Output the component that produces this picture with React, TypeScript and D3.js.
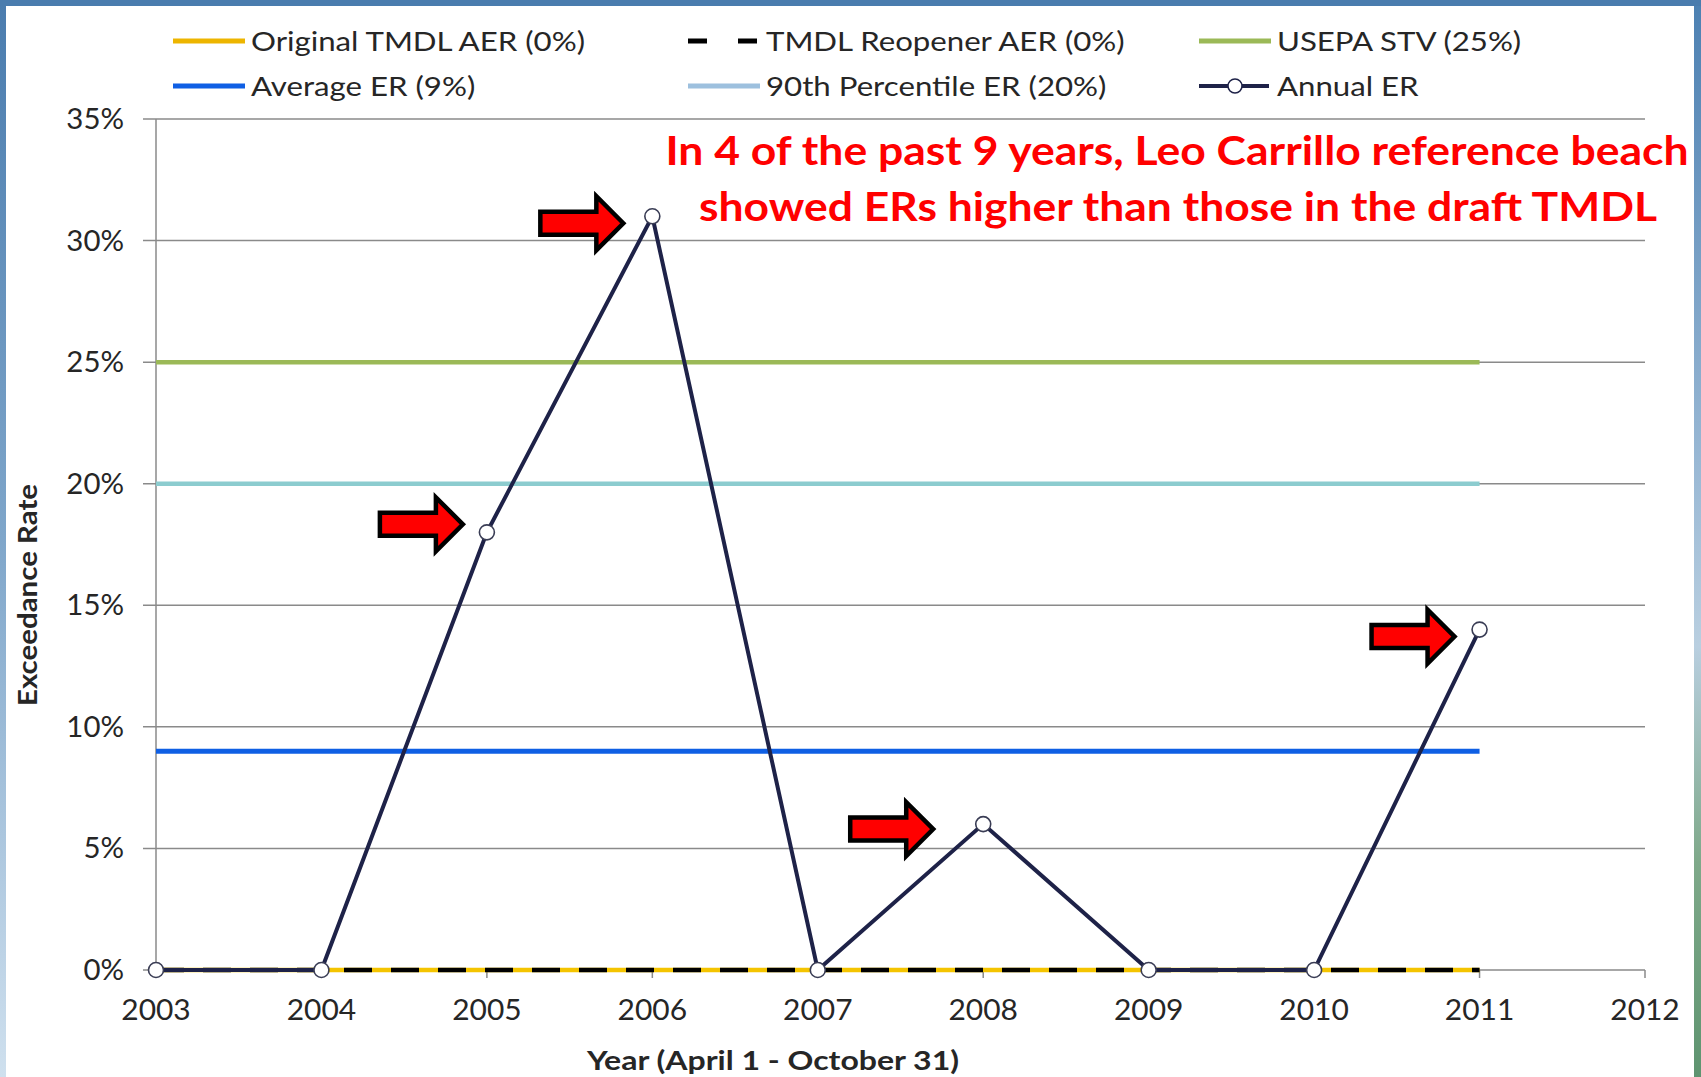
import React from "react";
import * as d3 from "d3";

// Annual exceedance rate (%) at Leo Carrillo reference beach
const years = [2003, 2004, 2005, 2006, 2007, 2008, 2009, 2010, 2011];
const annualER = [0, 0, 18, 31, 0, 6, 0, 0, 14];

// Reference levels (%)
const originalTmdlAER = 0;
const reopenerAER = 0;
const usepaSTV = 25;
const averageER = 9;
const percentile90ER = 20;

// Axis ticks
const xTicks = [2003, 2004, 2005, 2006, 2007, 2008, 2009, 2010, 2011, 2012];
const yTicks = [0, 5, 10, 15, 20, 25, 30, 35];

// Years flagged with an arrow
const flaggedYears = [2005, 2006, 2008, 2011];

const legendRow1 = ["Original TMDL AER (0%)", "TMDL Reopener AER (0%)", "USEPA STV (25%)"];
const legendRow2 = ["Average ER (9%)", "90th Percentile ER (20%)", "Annual ER"];

const noteLines = [
  "In 4 of the past 9 years, Leo Carrillo reference beach",
  "showed ERs higher than those in the draft TMDL",
];

const W = 1701;
const H = 1077;
const FONT = "Lato, 'Open Sans', 'DejaVu Sans', sans-serif";

const C = {
  gold: "#F4C400",
  black: "#000000",
  olive: "#9BB957",
  blue: "#0F5FE4",
  teal: "#8CCCCF",
  navy: "#1E2248",
  grid: "#8A8A8A",
  text: "#262626",
  red: "#FF0000",
};

export default function App() {
  const x = d3.scaleLinear().domain([2003, 2012]).range([156, 1645]);
  const y = d3.scaleLinear().domain([0, 35]).range([970, 119]);

  const x0 = x(years[0]);
  const x1 = x(years[years.length - 1]);

  const erLine = d3
    .line<number>()
    .x((_, i) => x(years[i]))
    .y((d) => y(d));

  // arrow nudges (px) so each arrow sits just left of its point
  const arrowNudge: Record<number, [number, number]> = {
    2005: [-24, -8],
    2006: [-29, 7],
    2008: [-50, 5],
    2011: [-25, 7],
  };
  const arrowPath =
    "M0,0 L-27,-27 L-27,-11.5 L-83,-11.5 L-83,11.5 L-27,11.5 L-27,27 Z";

  const legendCols = [173, 688, 1199];
  const legendRows = [41, 86];

  const legendSwatch = (row: number, col: number) => {
    const lx = legendCols[col];
    const ly = legendRows[row];
    if (row === 0 && col === 0)
      return <line x1={lx} x2={lx + 72} y1={ly} y2={ly} stroke="#EDB500" strokeWidth={5} />;
    if (row === 0 && col === 1)
      return (
        <line x1={lx} x2={lx + 69} y1={ly} y2={ly} stroke={C.black} strokeWidth={5} strokeDasharray="19 31" />
      );
    if (row === 0 && col === 2)
      return <line x1={lx} x2={lx + 72} y1={ly} y2={ly} stroke={C.olive} strokeWidth={5} />;
    if (row === 1 && col === 0)
      return <line x1={lx} x2={lx + 72} y1={ly} y2={ly} stroke={C.blue} strokeWidth={5} />;
    if (row === 1 && col === 1)
      return <line x1={lx} x2={lx + 72} y1={ly} y2={ly} stroke="#9DC0DE" strokeWidth={5} />;
    return (
      <g>
        <line x1={lx} x2={lx + 70} y1={ly} y2={ly} stroke={C.navy} strokeWidth={4} />
        <circle cx={lx + 36} cy={ly} r={7} fill="#fff" stroke={C.navy} strokeWidth={1.5} />
      </g>
    );
  };

  return (
    <svg
      width={W}
      height={H}
      viewBox={`0 0 ${W} ${H}`}
      style={{ position: "absolute", left: 0, top: 0, display: "block" }}
    >
      <defs>
        <linearGradient id="leftEdge" x1="0" y1="0" x2="0" y2="1">
          <stop offset="0" stopColor="#4A7CAE" />
          <stop offset="0.5" stopColor="#7FA6CA" />
          <stop offset="1" stopColor="#CFE0EE" />
        </linearGradient>
        <linearGradient id="rightEdge" x1="0" y1="0" x2="0" y2="1">
          <stop offset="0" stopColor="#4C80B2" />
          <stop offset="0.45" stopColor="#9DBBD6" />
          <stop offset="0.6" stopColor="#B9CFE0" />
          <stop offset="0.8" stopColor="#7FA98A" />
          <stop offset="1" stopColor="#5E9470" />
        </linearGradient>
      </defs>

      {/* slide frame */}
      <rect x={0} y={0} width={W} height={H} fill="#fff" />
      <rect x={0} y={0} width={6} height={H} fill="url(#leftEdge)" />
      <rect x={1694} y={0} width={7} height={H} fill="url(#rightEdge)" />
      <rect x={0} y={0} width={W} height={6} fill="#4A7CAE" />

      {/* horizontal gridlines with outer ticks */}
      {yTicks.map((t) => (
        <line key={t} x1={143} x2={1645} y1={y(t)} y2={y(t)} stroke={C.grid} strokeWidth={1.5} />
      ))}
      {/* y axis */}
      <line x1={x(2003)} x2={x(2003)} y1={y(35)} y2={y(0)} stroke={C.grid} strokeWidth={1.5} />
      {/* x axis ticks */}
      {xTicks.map((t) => (
        <line key={t} x1={x(t)} x2={x(t)} y1={y(0)} y2={y(0) + 8} stroke={C.grid} strokeWidth={1.5} />
      ))}

      {/* y tick labels */}
      {yTicks.map((t) => (
        <text
          key={t}
          transform={`translate(124,${y(t) + 10}) scale(1.05,1)`}
          textAnchor="end"
          fontFamily={FONT}
          fontSize={28}
          fill={C.text}
        >
          {`${t}%`}
        </text>
      ))}
      {/* x tick labels */}
      {xTicks.map((t) => (
        <text
          key={t}
          transform={`translate(${x(t)},1020) scale(1.07,1)`}
          textAnchor="middle"
          fontFamily={FONT}
          fontSize={28}
          fill={C.text}
        >
          {t}
        </text>
      ))}

      {/* axis titles */}
      <text
        x={773}
        y={1070}
        textAnchor="middle"
        fontFamily={FONT}
        fontWeight={700}
        fontSize={26}
        fill={C.text}
        textLength={372}
        lengthAdjust="spacingAndGlyphs"
      >
        Year (April 1 - October 31)
      </text>
      <text
        transform="translate(37,595) rotate(-90)"
        textAnchor="middle"
        fontFamily={FONT}
        fontWeight={700}
        fontSize={27}
        fill={C.text}
        textLength={222}
        lengthAdjust="spacingAndGlyphs"
      >
        Exceedance Rate
      </text>

      {/* reference levels */}
      <line x1={x0} x2={x1} y1={y(usepaSTV)} y2={y(usepaSTV)} stroke={C.olive} strokeWidth={4.5} />
      <line x1={x0} x2={x1} y1={y(percentile90ER)} y2={y(percentile90ER)} stroke={C.teal} strokeWidth={4.5} />
      <line x1={x0} x2={x1} y1={y(averageER)} y2={y(averageER)} stroke={C.blue} strokeWidth={5} />
      <line x1={x0} x2={x1} y1={y(originalTmdlAER)} y2={y(originalTmdlAER)} stroke={C.gold} strokeWidth={4.5} />
      <line
        x1={x0}
        x2={x1}
        y1={y(reopenerAER)}
        y2={y(reopenerAER)}
        stroke={C.black}
        strokeWidth={4.5}
        strokeDasharray="28 19"
      />

      {/* annual exceedance rate */}
      <path d={erLine(annualER) || ""} fill="none" stroke={C.navy} strokeWidth={4} strokeLinejoin="miter" />
      {annualER.map((v, i) => (
        <circle key={years[i]} cx={x(years[i])} cy={y(v)} r={7.5} fill="#fff" stroke="#3A3D55" strokeWidth={1.6} />
      ))}

      {/* arrows pointing at the high years */}
      {flaggedYears.map((yr) => {
        const i = years.indexOf(yr);
        const [dx, dy] = arrowNudge[yr];
        return (
          <path
            key={yr}
            d={arrowPath}
            transform={`translate(${x(yr) + dx},${y(annualER[i]) + dy})`}
            fill={C.red}
            stroke="#000"
            strokeWidth={4.5}
            strokeLinejoin="miter"
          />
        );
      })}

      {/* callout */}
      <text
        x={1177}
        y={165}
        textAnchor="middle"
        fontFamily={FONT}
        fontWeight={700}
        fontSize={41}
        fill={C.red}
        textLength={1023}
        lengthAdjust="spacingAndGlyphs"
      >
        {noteLines[0]}
      </text>
      <text
        x={1178}
        y={221}
        textAnchor="middle"
        fontFamily={FONT}
        fontWeight={700}
        fontSize={41}
        fill={C.red}
        textLength={958}
        lengthAdjust="spacingAndGlyphs"
      >
        {noteLines[1]}
      </text>

      {/* legend */}
      {[legendRow1, legendRow2].map((row, r) =>
        row.map((label, c) => (
          <g key={label}>
            {legendSwatch(r, c)}
            <text
              transform={`translate(${legendCols[c] + 78},${legendRows[r] + 10}) scale(1.2,1)`}
              fontFamily={FONT}
              fontSize={26}
              fill={C.text}
            >
              {label}
            </text>
          </g>
        ))
      )}
    </svg>
  );
}
